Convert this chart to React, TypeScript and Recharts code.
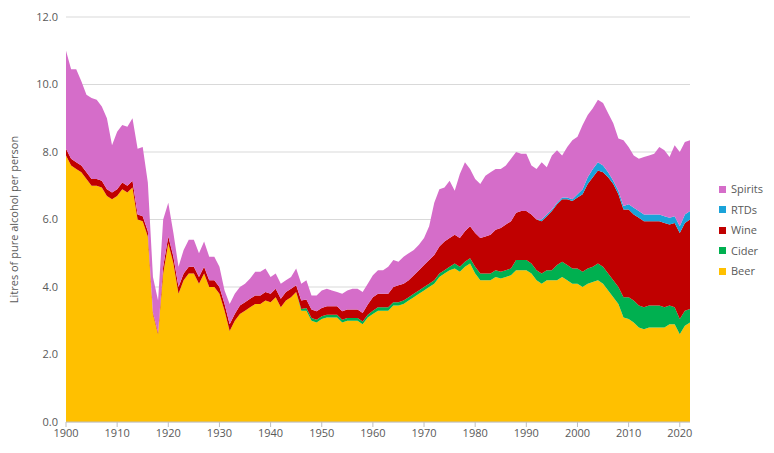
import { Area, AreaChart, CartesianGrid, XAxis, YAxis, Label } from "recharts";

const startYear = 1900;

const beer = [
  7.9, 7.6, 7.5, 7.4, 7.2, 7.0, 7.0, 6.95, 6.7, 6.6,
  6.7, 6.9, 6.8, 6.95, 6.0, 5.95, 5.5, 3.2, 2.6, 4.4,
  5.3, 4.7, 3.8, 4.2, 4.4, 4.4, 4.1, 4.4, 4.0, 4.0,
  3.8, 3.3, 2.7, 3.0, 3.2, 3.3, 3.4, 3.5, 3.5, 3.6,
  3.55, 3.7, 3.4, 3.6, 3.7, 3.85, 3.3, 3.3, 3.0, 2.95,
  3.05, 3.1, 3.1, 3.1, 2.95, 3.0, 3.0, 3.0, 2.9, 3.1,
  3.2, 3.3, 3.3, 3.3, 3.45, 3.45, 3.5, 3.6, 3.7, 3.8,
  3.9, 4.0, 4.1, 4.3, 4.4, 4.5, 4.55, 4.45, 4.6, 4.7,
  4.4, 4.2, 4.2, 4.2, 4.3, 4.25, 4.3, 4.35, 4.5, 4.5,
  4.5, 4.4, 4.2, 4.1, 4.2, 4.2, 4.2, 4.3, 4.2, 4.1,
  4.1, 4.0, 4.1, 4.15, 4.2, 4.1, 3.9, 3.7, 3.5, 3.1,
  3.05, 2.95, 2.8, 2.75, 2.8, 2.8, 2.8, 2.8, 2.9, 2.9,
  2.6, 2.85, 2.95,
];

const cider = [
  0, 0, 0, 0, 0, 0, 0, 0, 0, 0,
  0, 0, 0, 0, 0, 0, 0, 0, 0, 0,
  0, 0, 0, 0, 0, 0, 0, 0, 0, 0,
  0, 0, 0, 0, 0, 0, 0, 0, 0, 0,
  0, 0, 0, 0, 0, 0, 0.05, 0.08, 0.08, 0.08,
  0.08, 0.08, 0.08, 0.08, 0.08, 0.08, 0.08, 0.08, 0.08, 0.08,
  0.1, 0.1, 0.1, 0.1, 0.1, 0.1, 0.1, 0.1, 0.1, 0.1,
  0.1, 0.1, 0.1, 0.1, 0.1, 0.1, 0.15, 0.15, 0.15, 0.15,
  0.2, 0.2, 0.2, 0.2, 0.2, 0.2, 0.2, 0.2, 0.3, 0.3,
  0.3, 0.3, 0.3, 0.3, 0.3, 0.3, 0.45, 0.45, 0.45, 0.45,
  0.45, 0.45, 0.45, 0.45, 0.5, 0.5, 0.5, 0.5, 0.5, 0.6,
  0.65, 0.65, 0.65, 0.65, 0.65, 0.65, 0.65, 0.6, 0.55, 0.5,
  0.45, 0.45, 0.4,
];

const wine = [
  0.2, 0.2, 0.2, 0.2, 0.2, 0.2, 0.2, 0.2, 0.2, 0.2,
  0.2, 0.2, 0.2, 0.2, 0.15, 0.15, 0.15, 0.05, 0.05, 0.2,
  0.2, 0.2, 0.2, 0.2, 0.2, 0.2, 0.2, 0.2, 0.2, 0.2,
  0.2, 0.2, 0.2, 0.2, 0.25, 0.25, 0.25, 0.25, 0.25, 0.25,
  0.25, 0.25, 0.25, 0.25, 0.25, 0.2, 0.25, 0.25, 0.25, 0.25,
  0.25, 0.25, 0.25, 0.25, 0.25, 0.25, 0.25, 0.25, 0.25, 0.3,
  0.4, 0.4, 0.4, 0.4, 0.45, 0.5, 0.5, 0.5, 0.55, 0.6,
  0.65, 0.7, 0.75, 0.8, 0.85, 0.85, 0.85, 0.85, 0.9, 0.95,
  1.0, 1.05, 1.1, 1.15, 1.2, 1.3, 1.35, 1.4, 1.4, 1.45,
  1.45, 1.45, 1.5, 1.55, 1.6, 1.75, 1.8, 1.85, 1.95, 2.0,
  2.1, 2.3, 2.5, 2.65, 2.75, 2.8, 2.85, 2.85, 2.75, 2.6,
  2.6, 2.55, 2.6, 2.55, 2.5, 2.5, 2.5, 2.5, 2.4, 2.5,
  2.55, 2.6, 2.65,
];

const rtds = [
  0, 0, 0, 0, 0, 0, 0, 0, 0, 0,
  0, 0, 0, 0, 0, 0, 0, 0, 0, 0,
  0, 0, 0, 0, 0, 0, 0, 0, 0, 0,
  0, 0, 0, 0, 0, 0, 0, 0, 0, 0,
  0, 0, 0, 0, 0, 0, 0, 0, 0, 0,
  0, 0, 0, 0, 0, 0, 0, 0, 0, 0,
  0, 0, 0, 0, 0, 0, 0, 0, 0, 0,
  0, 0, 0, 0, 0, 0, 0, 0, 0, 0,
  0, 0, 0, 0, 0, 0, 0, 0, 0, 0,
  0, 0, 0, 0.05, 0.05, 0.05, 0.05, 0.05, 0.05, 0.05,
  0.1, 0.15, 0.2, 0.25, 0.25, 0.2, 0.15, 0.1, 0.1, 0.1,
  0.15, 0.2, 0.2, 0.2, 0.2, 0.2, 0.2, 0.2, 0.2, 0.2,
  0.2, 0.25, 0.25,
];

// top edge of the stack (all drinks)
const total = [
  11.0, 10.45, 10.45, 10.1, 9.7, 9.6, 9.55, 9.35, 9.0, 8.2,
  8.6, 8.8, 8.75, 9.0, 8.1, 8.15, 7.1, 4.3, 3.6, 6.0,
  6.5, 5.6, 4.6, 5.1, 5.4, 5.4, 5.0, 5.35, 4.9, 4.9,
  4.6, 3.9, 3.5, 3.8, 4.0, 4.1, 4.25, 4.45, 4.45, 4.55,
  4.3, 4.4, 4.1, 4.2, 4.3, 4.55, 4.1, 4.2, 3.75, 3.75,
  3.9, 3.95, 3.9, 3.85, 3.8, 3.9, 3.95, 3.95, 3.85, 4.1,
  4.35, 4.5, 4.5, 4.6, 4.8, 4.75, 4.9, 5.0, 5.1, 5.25,
  5.45, 5.8, 6.5, 6.9, 6.95, 7.15, 6.85, 7.35, 7.7, 7.5,
  7.2, 7.05, 7.3, 7.4, 7.5, 7.5, 7.6, 7.8, 8.0, 7.95,
  7.95, 7.6, 7.5, 7.7, 7.55, 7.9, 8.05, 7.9, 8.15, 8.35,
  8.45, 8.8, 9.1, 9.3, 9.55, 9.45, 9.15, 8.85, 8.4, 8.35,
  8.15, 7.9, 7.8, 7.85, 7.9, 7.95, 8.15, 8.05, 7.85, 8.2,
  8.0, 8.3, 8.35,
];

const yTicks = [0, 2, 4, 6, 8, 10, 12];
const xTicks = [1900, 1910, 1920, 1930, 1940, 1950, 1960, 1970, 1980, 1990, 2000, 2010, 2020];

const data = beer.map((b, i) => ({
  year: startYear + i,
  Beer: b,
  Cider: cider[i],
  Wine: wine[i],
  RTDs: rtds[i],
  Spirits: Math.max(0, +(total[i] - b - cider[i] - wine[i] - rtds[i]).toFixed(2)),
}));

const series = [
  { key: "Beer", color: "#FFC000" },
  { key: "Cider", color: "#00B050" },
  { key: "Wine", color: "#C00000" },
  { key: "RTDs", color: "#1AA3D9" },
  { key: "Spirits", color: "#D56DC9" },
];

const font = "'Open Sans', 'Liberation Sans', sans-serif";

export default function App() {
  return (
    <div style={{ position: "fixed", left: 0, top: 0, width: 774, height: 453, background: "#fff", fontFamily: font }}>
      <AreaChart width={774} height={453} data={data} margin={{ top: 17, right: 84, bottom: 11, left: 0 }}>
        <CartesianGrid vertical={false} stroke="#d9d9d9" />
        <XAxis
          dataKey="year"
          type="number"
          domain={[1900, 2022]}
          ticks={xTicks}
          tick={{ fontSize: 11, fill: "#595959" }}
          stroke="#bfbfbf"
          tickSize={5}
          height={20}
        />
        <YAxis
          domain={[0, 12]}
          ticks={yTicks}
          tickFormatter={(v) => v.toFixed(1)}
          tick={{ fontSize: 11, fill: "#595959" }}
          axisLine={false}
          tickLine={false}
          width={66}
        >
          <Label
            value="Litres of pure alcohol per person"
            angle={-90}
            position="insideLeft"
            offset={14}
            style={{ fontSize: 11, fill: "#595959", textAnchor: "middle" }}
          />
        </YAxis>
        {series.map((s) => (
          <Area
            key={s.key}
            dataKey={s.key}
            stackId="a"
            type="linear"
            stroke="none"
            fill={s.color}
            fillOpacity={1}
            isAnimationActive={false}
          />
        ))}
      </AreaChart>
      <div style={{ position: "absolute", left: 719, top: 179, fontSize: 11, color: "#595959", lineHeight: "20.5px" }}>
        {[...series].reverse().map((s) => (
          <div key={s.key} style={{ display: "flex", alignItems: "center" }}>
            <span style={{ width: 7, height: 7, background: s.color, marginRight: 5, display: "inline-block" }} />
            {s.key}
          </div>
        ))}
      </div>
    </div>
  );
}
